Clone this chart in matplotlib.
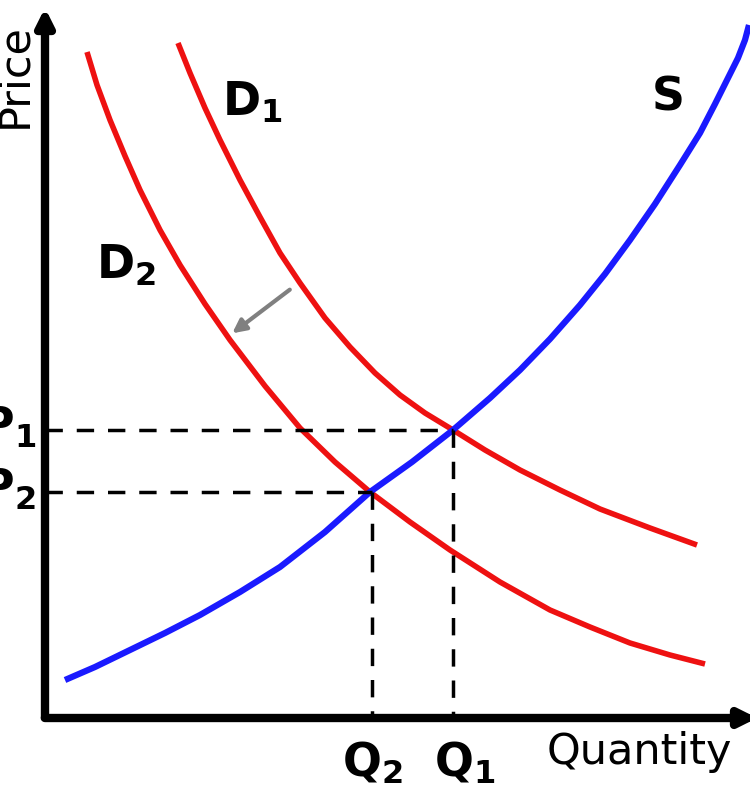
import matplotlib.pyplot as plt

s_x = [65, 95, 130, 165, 200, 240, 280, 325, 370, 412, 453, 490, 520, 550, 580, 605, 630, 655, 680, 700, 715, 728, 738, 745, 749]
s_y = [680, 667, 650, 633, 615, 592, 567, 532, 492, 462, 430, 398, 370, 339, 305, 274, 240, 204, 165, 133, 104, 78, 58, 40, 25]
d1_x = [178, 190, 205, 220, 240, 260, 280, 300, 325, 350, 375, 400, 425, 453, 485, 520, 560, 600, 650, 697]
d1_y = [43, 73, 108, 140, 180, 217, 253, 283, 318, 347, 373, 395, 413, 430, 450, 470, 490, 509, 528, 545]
d2_x = [87, 97, 110, 125, 140, 160, 180, 205, 230, 265, 300, 335, 370, 410, 450, 500, 550, 590, 630, 670, 705]
d2_y = [52, 85, 120, 156, 190, 230, 265, 304, 340, 386, 428, 462, 492, 522, 550, 582, 610, 627, 643, 655, 664]
q_pts = [372, 453]
p_pts = [492, 430]

fig = plt.figure(figsize=(7.5, 8), dpi=100)
ax = fig.add_axes([0, 0, 1, 1])
ax.set_xlim(0, 750)
ax.set_ylim(800, 0)
ax.axis('off')

ax.plot(d1_x, d1_y, color='#ee1111', lw=4, solid_capstyle='butt')
ax.plot(d2_x, d2_y, color='#ee1111', lw=4, solid_capstyle='butt')
ax.plot(s_x, s_y, color='#1a1aff', lw=4.5, solid_capstyle='butt')

for q, p in zip(q_pts, p_pts):
    ax.plot([45, q], [p, p], 'k--', lw=2.5, dashes=(5, 4))
    ax.plot([q, q], [p, 718], 'k--', lw=2.5, dashes=(5, 4))

# axes with arrowheads
ax.annotate('', xy=(45, 5), xytext=(45, 720), annotation_clip=False,
            arrowprops=dict(arrowstyle='-|>,head_width=0.5,head_length=1', color='black', lw=6))
ax.annotate('', xy=(760, 718), xytext=(42, 718), annotation_clip=False,
            arrowprops=dict(arrowstyle='-|>,head_width=0.5,head_length=1', color='black', lw=6))

ax.annotate('', xy=(230, 335), xytext=(292, 288),
            arrowprops=dict(arrowstyle='-|>,head_width=0.4,head_length=0.8', color='#808080', lw=3))

fs = 33
ax.text(222, 103, r'$\mathbf{D_1}$', fontsize=fs, ha='left', va='center')
ax.text(96, 266, r'$\mathbf{D_2}$', fontsize=fs, ha='left', va='center')
ax.text(652, 98, 'S', fontsize=fs, fontweight='bold', ha='left', va='center')
ax.text(36, 428, r'$\mathbf{P_1}$', fontsize=fs, ha='right', va='center')
ax.text(36, 490, r'$\mathbf{P_2}$', fontsize=fs, ha='right', va='center')
ax.text(372, 763, r'$\mathbf{Q_2}$', fontsize=fs, ha='center', va='center')
ax.text(465, 763, r'$\mathbf{Q_1}$', fontsize=fs, ha='center', va='center')
ax.text(547, 752, 'Quantity', fontsize=31, ha='left', va='center')
ax.text(14, 76, 'Price', fontsize=31, rotation=90, ha='center', va='center')

fig.savefig('out.png', dpi=100)
